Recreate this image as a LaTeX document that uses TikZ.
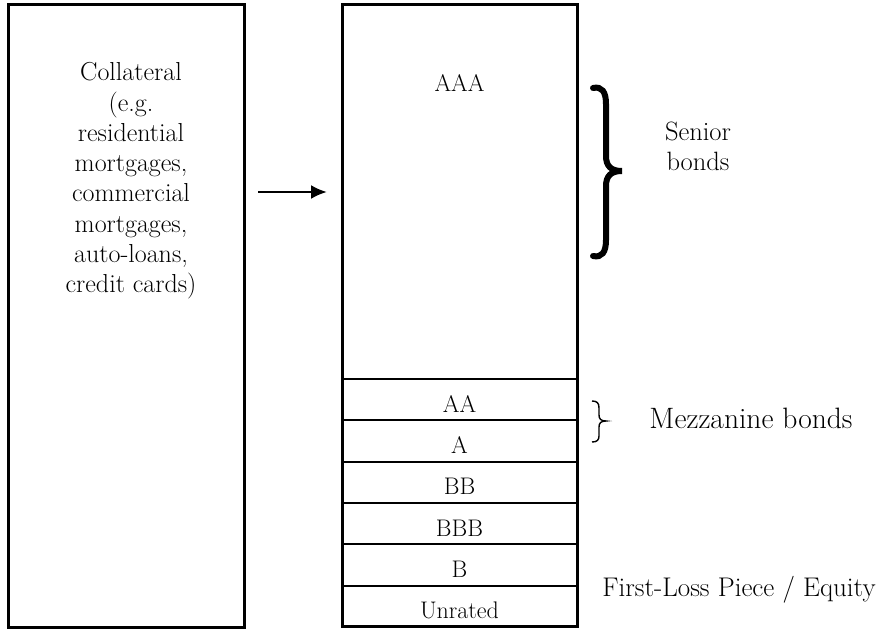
\documentclass[tikz,border=0pt]{standalone}
\usetikzlibrary{arrows.meta}
\begin{document}
\begin{tikzpicture}[x=1pt,y=-1pt,
  outline/.style={draw,line width=3pt},
  tranche/.style={draw,line width=2pt,minimum width=235pt,inner sep=0pt,outer sep=0pt,
    text height=33.3pt,text depth=8pt,font=\fontsize{24}{26}\selectfont},
  lbl/.style={inner sep=0pt,anchor=base,align=center,
    font=\fontsize{26.5}{30}\selectfont},
  flow/.style={-{Latex[length=16pt,width=14pt]},line width=2.5pt}]
\useasboundingbox (0,0) rectangle (885,631);

% collateral pool (multi-line nodes are anchored on their last baseline)
\node[outline,minimum width=236pt,minimum height=622pt,inner sep=0pt,outer sep=0pt]
  (pool) at (126.5,316) {};
\node[lbl,font=\fontsize{26}{30.3}\selectfont] (pooltext) at (131,292.8)
  {Collateral\\(e.g.\\residential\\mortgages,\\commercial\\mortgages,\\auto-loans,\\credit cards)};

% tranches of the structure
\node[tranche,anchor=north,text height=87pt,text depth=287pt] (aaa) at (459.5,5) {AAA};
\node[tranche,anchor=north] (aa)  at (459.5,379) {AA};
\node[tranche,anchor=north] (a)   at (aa.south)  {A};
\node[tranche,anchor=north] (bb)  at (a.south)   {BB};
\node[tranche,anchor=north] (bbb) at (bb.south)  {BBB};
\node[tranche,anchor=north] (b)   at (bbb.south) {B};
\node[tranche,anchor=north] (unr) at (b.south)   {Unrated};
\draw[line width=3pt] (aaa.north west) rectangle (unr.south east);

% flow from pool into the structure
\draw[flow,shorten <=13.5pt,shorten >=15pt] (pool.east |- aaa.west) -- (aaa.west);

% braces
\draw[line width=6pt,line cap=round]
  (593,88) .. controls (602,86) and (606,92) .. (606,104)
  -- (606,156) .. controls (606,166) and (611,171) .. (622,171)
  .. controls (611,171) and (606,176) .. (606,186)
  -- (606,240) .. controls (606,252) and (602,258) .. (593,256);
\draw[line width=1.4pt]
  (592,401) .. controls (597,401) and (599,403) .. (599,408)
  -- (599,415) .. controls (599,419) and (601,421) .. (606,421)
  .. controls (601,421) and (599,423) .. (599,427)
  -- (599,436) .. controls (599,440) and (597,442) .. (592,442);

% side labels
\node[lbl] (senior) at (698,170.7) {Senior\\bonds};
\node[lbl,font=\fontsize{29.5}{30}\selectfont] (mezz) at (751,428) {Mezzanine bonds};
\node[lbl,font=\fontsize{27}{30}\selectfont] (equity) at (739,596.7) {First-Loss Piece / Equity};
\end{tikzpicture}
\end{document}
